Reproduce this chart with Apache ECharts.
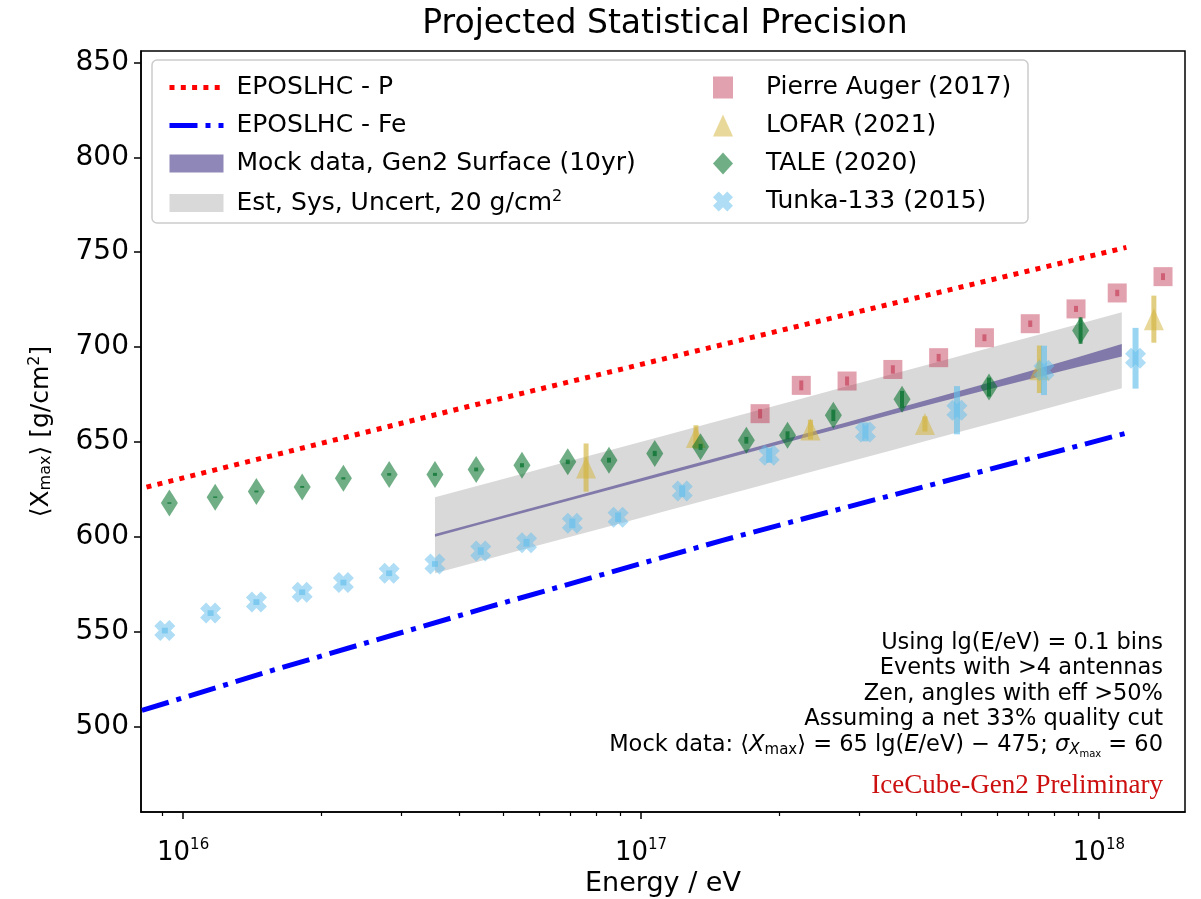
<!DOCTYPE html>
<html><head><meta charset="utf-8">
<script src="https://cdn.jsdelivr.net/npm/echarts@6/dist/echarts.min.js"></script>
<style>html,body{margin:0;padding:0;background:#fff}#c{width:1201px;height:899px}</style>
</head><body><div id="c"></div>
<script>
// ---------------- data (energies as lg(E/eV), Xmax in g/cm^2) ----------------
const eposP_lgE   = [15.92, 16.65, 17.35, 18.06];
const eposP_Xmax  = [626.2, 670.3, 711.4, 752.5];
const eposFe_lgE  = [15.91, 16.20, 16.67, 17.18, 17.44, 18.07];
const eposFe_Xmax = [508.5, 530.0, 563.2, 598.3, 615.0, 655.3];

const mock_lgE  = [16.55,16.65,16.75,16.85,16.95,17.05,17.15,17.25,17.35,17.45,17.55,17.65,17.75,17.85,17.95,18.05];
const mock_Xmax = [600.8,607.3,613.8,620.3,626.8,633.3,639.8,646.3,652.8,659.3,665.8,672.3,678.8,685.3,691.8,698.3];
const mock_stat = [0.7,0.7,0.7,0.7,0.75,0.8,0.85,0.9,1.0,1.1,1.25,1.45,1.75,2.1,2.6,3.3];
const sys_uncert = 20;

const auger_lgE  = [17.26,17.35,17.45,17.55,17.65,17.75,17.85,17.95,18.04,18.14];
const auger_Xmax = [664.9,679.8,682.1,688.2,694.4,704.9,712.3,720.1,728.5,737.1];
const auger_err  = [2.5,2.6,2.4,2.2,2.0,1.8,1.7,1.6,1.7,1.8];

const lofar_lgE  = [16.88,17.12,17.37,17.62,17.87,18.12];
const lofar_Xmax = [636.5,652.6,656.5,659.5,688.3,714.7];
const lofar_err  = [12.7,6.2,5.2,4.0,12.5,12.4];

const tale_lgE  = [15.97,16.07,16.16,16.26,16.35,16.45,16.55,16.64,16.74,16.84,16.93,17.03,17.13,17.23,17.32,17.42,17.57,17.76,17.96];
const tale_Xmax = [617.8,620.9,623.9,626.3,630.8,632.9,632.9,635.5,637.7,639.5,640.4,643.9,647.4,650.9,653.5,664.0,672.5,678.9,708.7];
const tale_err  = [0.4,0.4,0.5,0.5,0.6,0.7,0.8,1.0,1.1,1.2,1.3,1.4,1.6,1.8,2.1,3.0,4.4,5.0,7.0];

const tunka_lgE  = [15.96,16.06,16.16,16.26,16.35,16.45,16.55,16.65,16.75,16.85,16.95,17.09,17.28,17.49,17.69,17.88,18.08];
const tunka_Xmax = [550.6,559.8,565.6,570.8,575.9,580.8,585.7,592.5,596.9,607.1,610.3,624.1,643.0,655.3,666.7,687.7,694.1];
const tunka_err  = [1.5,1.5,1.5,1.5,1.5,1.5,1.5,2.0,2.0,2.5,2.5,3.0,4.0,5.0,12.7,13.0,16.0];

const xTicksMajor = [1e16, 1e17, 1e18];
const xTicksMinor = [9e15, 2e16,3e16,4e16,5e16,6e16,7e16,8e16,9e16, 2e17,3e17,4e17,5e17,6e17,7e17,8e17,9e17];
const yTicks = [500,550,600,650,700,750,800,850];

const annotationLines = [
  'Using lg(E/eV) = 0.1 bins',
  'Events with >4 antennas',
  'Zen, angles with eff >50%',
  'Assuming a net 33% quality cut'
];
// -----------------------------------------------------------------------------

const E = lg => Math.pow(10, lg);
const FONT = 'DejaVu Sans';
const X_MIN = Math.pow(10, 15.908), X_MAX = Math.pow(10, 18.188);

const C_AUGER = 'rgba(190,40,70,0.55)';
const C_LOFAR = 'rgba(210,180,60,0.65)';
const C_TALE  = 'rgba(0,110,40,0.7)';
const C_TUNKA = 'rgba(100,190,235,0.65)';
const X_PATH = 'path://M71.2,0.5L99.5,28.8L78.3,50L99.5,71.2L71.2,99.5L50,78.3L28.8,99.5L0.5,71.2L21.7,50L0.5,28.8L28.8,0.5L50,21.7Z';
const P_DASH = [5, 6.3], FE_DASH = [28, 8, 5, 8];

function pairs(xs, ys) { return xs.map((x, i) => [E(x), ys[i]]); }

function bandSeries(name, xs, lo, hi, color, z) {
  return {
    name: name, type: 'custom', z: z, silent: true, clip: true,
    itemStyle: { color: color },
    data: xs.map((x, i) => [E(x), lo[i], hi[i]]),
    encode: { x: 0, y: [1, 2] },
    renderItem: function (params, api) {
      if (params.dataIndex !== 0) return { type: 'group', children: [] };
      const pts = [];
      for (let i = 0; i < xs.length; i++) pts.push(api.coord([E(xs[i]), hi[i]]));
      for (let i = xs.length - 1; i >= 0; i--) pts.push(api.coord([E(xs[i]), lo[i]]));
      return { type: 'polygon', shape: { points: pts }, style: { fill: color } };
    }
  };
}

function errSeries(xs, ys, errs, color, width, z) {
  return {
    type: 'custom', z: z, silent: true,
    data: xs.map((x, i) => [E(x), ys[i] - errs[i], ys[i] + errs[i]]),
    encode: { x: 0, y: [1, 2] },
    renderItem: function (params, api) {
      const a = api.coord([api.value(0), api.value(1)]);
      const b = api.coord([api.value(0), api.value(2)]);
      return { type: 'line', shape: { x1: a[0], y1: a[1], x2: b[0], y2: b[1] },
               style: { stroke: color, lineWidth: width, lineCap: 'butt' } };
    }
  };
}

function scatterSeries(name, xs, ys, symbol, size, color, z) {
  return { name: name, type: 'scatter', z: z, symbol: symbol, symbolSize: size,
           itemStyle: { color: color }, data: pairs(xs, ys), silent: true };
}

const mockLo = mock_Xmax.map((v, i) => v - mock_stat[i]);
const mockHi = mock_Xmax.map((v, i) => v + mock_stat[i]);
const sysLo  = mock_Xmax.map(v => v - sys_uncert);
const sysHi  = mock_Xmax.map(v => v + sys_uncert);

const chart = echarts.init(document.getElementById('c'), null, { renderer: 'canvas' });

const subRich = {
  sub: { fontSize: 15, fontFamily: FONT, padding: [10, 0, 0, 0] },
  sup: { fontSize: 15, fontFamily: FONT, padding: [0, 0, 12, 0] },
  i:   { fontSize: 22.5, fontFamily: FONT, fontStyle: 'italic' },
  subi:{ fontSize: 15, fontFamily: FONT, fontStyle: 'italic', padding: [10, 0, 0, 0] },
  subsub: { fontSize: 10, fontFamily: FONT, padding: [18, 0, 0, 0] }
};

const graphics = [
  { type: 'rect', z: 10, shape: { x: 152, y: 60, width: 876, height: 163, r: 5 },
    style: { fill: 'rgba(255,255,255,0.8)', stroke: '#cccccc', lineWidth: 1.5 } }
];
annotationLines.forEach((t, i) => {
  graphics.push({ type: 'text', z: 10, x: 1163, y: 643 + i * 25.5,
    style: { text: t, fill: '#000', font: '22.5px "' + FONT + '"', align: 'right', verticalAlign: 'middle' } });
});
graphics.push({ type: 'text', z: 10, x: 1163, y: 745,
  style: { text: 'Mock data: ⟨{i|X}{sub|max}⟩ = 65 lg({i|E}/eV) − 475; {i|σ}{subi|X}{subsub|max} = 60',
           fill: '#000', fontSize: 22.5, fontFamily: FONT, align: 'right', verticalAlign: 'middle', rich: subRich } });
graphics.push({ type: 'text', z: 10, x: 1163, y: 786,
  style: { text: 'IceCube-Gen2 Preliminary', fill: '#cc1010', font: '27px "Liberation Serif"', align: 'right', verticalAlign: 'middle' } });

const hideSym = { color: 'rgba(0,0,0,0)', borderWidth: 0 };

const option = {
  animation: false,
  backgroundColor: '#fff',
  title: { text: 'Projected Statistical Precision', left: 660, top: 3, textAlign: 'center',
           textStyle: { fontFamily: FONT, fontSize: 33, fontWeight: 'normal', color: '#000' } },
  grid: { left: 141, right: 16, top: 51, bottom: 87, containLabel: false, outerBoundsMode: 'none',
          show: true, borderColor: '#000', borderWidth: 1.5, backgroundColor: 'transparent' },
  legend: [
    { orient: 'vertical', left: 162, top: 70, itemWidth: 54, itemHeight: 18, itemGap: 13, z: 11,
      selectedMode: false,
      textStyle: { fontFamily: FONT, fontSize: 25, color: '#000', padding: [0, 0, 0, 8],
                   rich: { sup: { fontSize: 16, fontFamily: FONT, padding: [0, 0, 12, 0] } } },
      formatter: n => n === 'Est, Sys, Uncert, 20 g/cm2' ? 'Est, Sys, Uncert, 20 g/cm{sup|2}' : n,
      data: [ { name: 'EPOSLHC - P', itemStyle: hideSym,
                lineStyle: { color: '#ff0000', width: 5, type: P_DASH, cap: 'butt' } },
              { name: 'EPOSLHC - Fe', itemStyle: hideSym,
                lineStyle: { color: '#0000ff', width: 5, type: FE_DASH, cap: 'butt' } },
              { name: 'Mock data, Gen2 Surface (10yr)', icon: 'rect' },
              { name: 'Est, Sys, Uncert, 20 g/cm2', icon: 'rect' } ] },
    { orient: 'vertical', left: 708, top: 70, itemWidth: 20, itemHeight: 22, itemGap: 13, z: 11,
      selectedMode: false,
      textStyle: { fontFamily: FONT, fontSize: 25, color: '#000', padding: [0, 0, 0, 28] },
      data: [ { name: 'Pierre Auger (2017)' }, { name: 'LOFAR (2021)' },
              { name: 'TALE (2020)' }, { name: 'Tunka-133 (2015)', icon: X_PATH } ] }
  ],
  xAxis: [
    { type: 'log', min: X_MIN, max: X_MAX, logBase: 10,
      name: 'Energy / eV', nameLocation: 'middle', nameGap: 58,
      nameTextStyle: { fontFamily: FONT, fontSize: 27, color: '#000' },
      axisLine: { show: true, onZero: false, lineStyle: { color: '#000', width: 1.5 } },
      axisTick: { show: true, length: 7, lineStyle: { color: '#000', width: 1.5 }, customValues: xTicksMajor },
      axisLabel: { show: true, margin: 26, customValues: xTicksMajor, color: '#000', fontFamily: FONT, fontSize: 26,
                   formatter: v => '10{sup|' + Math.round(Math.log10(v)) + '}',
                   rich: { sup: { fontSize: 15, fontFamily: FONT, color: '#000', padding: [0, 0, 15, 0] } } },
      splitLine: { show: false }, minorTick: { show: false } },
    { type: 'log', min: X_MIN, max: X_MAX, logBase: 10, position: 'bottom',
      axisLine: { show: false },
      axisTick: { show: true, length: 4, lineStyle: { color: '#000', width: 1.2 }, customValues: xTicksMinor },
      axisLabel: { show: false }, splitLine: { show: false } }
  ],
  yAxis: {
    type: 'value', min: 455, max: 856,
    name: '⟨X{sub|max}⟩ [g/cm{sup|2}]', nameLocation: 'middle', nameGap: 86, nameRotate: 90,
    nameTextStyle: { fontFamily: FONT, fontSize: 25, color: '#000',
                     rich: { sub: { fontSize: 16, fontFamily: FONT, padding: [10, 0, 0, 0] },
                             sup: { fontSize: 16, fontFamily: FONT, padding: [0, 0, 12, 0] } } },
    axisLine: { show: true, onZero: false, lineStyle: { color: '#000', width: 1.5 } },
    axisTick: { show: true, length: 7, lineStyle: { color: '#000', width: 1.5 }, customValues: yTicks },
    axisLabel: { customValues: yTicks, margin: 12, color: '#000', fontFamily: FONT, fontSize: 28 },
    splitLine: { show: false }
  },
  series: [
    bandSeries('Est, Sys, Uncert, 20 g/cm2', mock_lgE, sysLo, sysHi, '#d9d9d9', 1),
    bandSeries('Mock data, Gen2 Surface (10yr)', mock_lgE, mockLo, mockHi, 'rgba(72,61,139,0.62)', 2),
    { name: 'EPOSLHC - P', type: 'line', z: 3, symbol: 'none', silent: true, data: pairs(eposP_lgE, eposP_Xmax),
      lineStyle: { color: '#ff0000', width: 5, type: P_DASH, cap: 'butt' }, itemStyle: { color: '#ff0000' } },
    { name: 'EPOSLHC - Fe', type: 'line', z: 3, symbol: 'none', silent: true, data: pairs(eposFe_lgE, eposFe_Xmax),
      lineStyle: { color: '#0000ff', width: 5, type: FE_DASH, cap: 'butt' }, itemStyle: { color: '#0000ff' } },
    errSeries(auger_lgE, auger_Xmax, auger_err, C_AUGER, 4, 4),
    scatterSeries('Pierre Auger (2017)', auger_lgE, auger_Xmax, 'rect', 19, C_AUGER, 4),
    errSeries(lofar_lgE, lofar_Xmax, lofar_err, C_LOFAR, 5, 5),
    scatterSeries('LOFAR (2021)', lofar_lgE, lofar_Xmax, 'triangle', [20, 22], C_LOFAR, 5),
    errSeries(tale_lgE, tale_Xmax, tale_err, C_TALE, 4, 6),
    scatterSeries('TALE (2020)', tale_lgE, tale_Xmax, 'diamond', [17, 27], C_TALE, 6),
    errSeries(tunka_lgE, tunka_Xmax, tunka_err, C_TUNKA, 6, 7),
    scatterSeries('Tunka-133 (2015)', tunka_lgE, tunka_Xmax, X_PATH, 21, C_TUNKA, 7)
  ],
  graphic: graphics
};
chart.setOption(option);
</script>
</body></html>
